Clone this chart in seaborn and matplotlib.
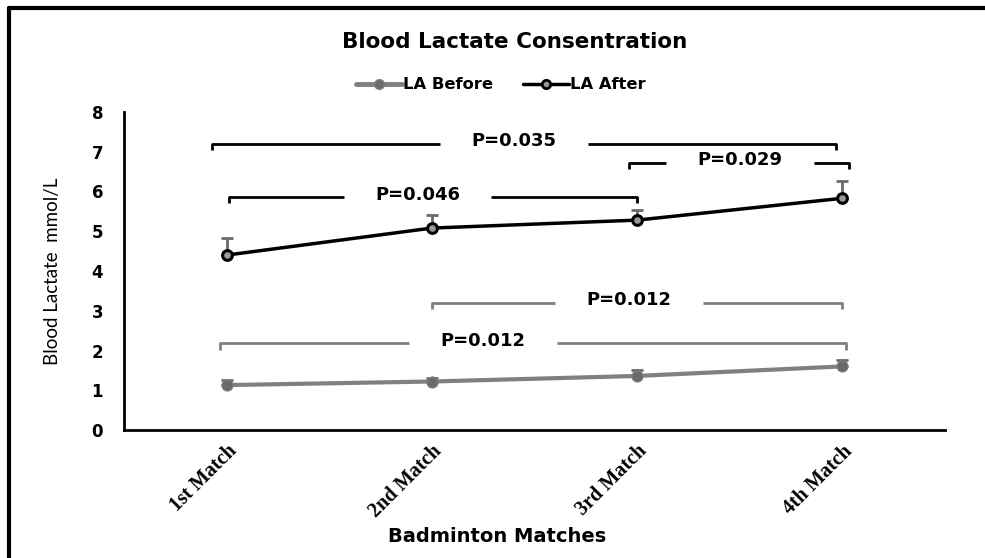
import matplotlib
matplotlib.use("Agg")
import matplotlib.pyplot as plt
import matplotlib.transforms as mtransforms
import seaborn as sns
import pandas as pd
import numpy as np
from matplotlib.lines import Line2D

# data
matches = ["1st Match", "2nd Match", "3rd Match", "4th Match"]
la_before = [1.13, 1.22, 1.36, 1.60]
la_before_err = [0.14, 0.10, 0.15, 0.16]
la_after = [4.40, 5.08, 5.28, 5.83]
la_after_err = [0.43, 0.32, 0.25, 0.43]

# significance brackets (x in category units, y in mmol/L)
bracket_labels = ["P=0.035", "P=0.046", "P=0.029", "P=0.012", "P=0.012"]
bracket_x0 = [-0.07, 0.01, 1.96, 1.00, -0.03]
bracket_x1 = [2.97, 2.00, 3.03, 3.00, 3.02]
bracket_y = [7.20, 5.86, 6.72, 3.20, 2.18]
bracket_text_x = [1.40, 0.93, 2.50, 1.96, 1.25]
bracket_series = ["after", "after", "after", "before", "before"]

GRAY = "#808080"
DARK_GRAY = "#6a6a6a"
BOLD_FONT = ["DejaVu Sans"]

sns.set_style("white")
plt.rcParams["font.family"] = ["Lato", "DejaVu Sans"]
plt.rcParams["text.color"] = "black"
plt.rcParams["axes.labelcolor"] = "black"
plt.rcParams["xtick.color"] = "black"
plt.rcParams["ytick.color"] = "black"

df = pd.DataFrame({
    "match": matches * 2,
    "pos": list(range(len(matches))) * 2,
    "value": la_before + la_after,
    "series": ["LA Before"] * len(matches) + ["LA After"] * len(matches),
})

fig = plt.figure(figsize=(9.85, 5.58), dpi=100)
ax = fig.add_axes([124 / 985, 1 - 430 / 558, (945 - 124) / 985, (430 - 112) / 558])

# upper-only error bars
pos = np.arange(len(matches))
for vals, errs in [(la_before, la_before_err), (la_after, la_after_err)]:
    ax.errorbar(pos, vals, yerr=[np.zeros(len(errs)), errs], fmt="none",
                ecolor=DARK_GRAY, elinewidth=2, capsize=4, capthick=2, zorder=2)

sns.lineplot(data=df[df.series == "LA Before"], x="pos", y="value", ax=ax,
             color=GRAY, linewidth=3, marker="o", markersize=8,
             markerfacecolor=DARK_GRAY, markeredgecolor=GRAY, zorder=3)
sns.lineplot(data=df[df.series == "LA After"], x="pos", y="value", ax=ax,
             color="black", linewidth=2.5, marker="o", markersize=7,
             markerfacecolor="#9a9a9a", markeredgecolor="black",
             markeredgewidth=2.2, zorder=3)

# brackets
gap = 0.36
drop = 0.16
for lab, x0, x1, y, tx, s in zip(bracket_labels, bracket_x0, bracket_x1,
                                 bracket_y, bracket_text_x, bracket_series):
    c = "black" if s == "after" else GRAY
    ax.plot([x0, x0, tx - gap], [y - drop, y, y], color=c, lw=2, solid_capstyle="butt")
    ax.plot([tx + gap, x1, x1], [y, y, y - drop], color=c, lw=2, solid_capstyle="butt")
    ax.text(tx, y + 0.06, lab, ha="center", va="center", fontsize=13,
            fontweight="bold", color="black", family=BOLD_FONT)

ax.set_xlim(-0.5, 3.5)
ax.set_ylim(0, 8)
ax.set_yticks(range(0, 9))
ax.set_xticks(np.arange(-0.5, 3.6, 1), minor=False)
ax.set_xticklabels([])
ax.set_xticks(pos, minor=True)
ax.set_xticklabels(matches, minor=True, rotation=45, ha="right",
                   rotation_mode="anchor", fontsize=14.5, fontweight="bold",
                   family="Liberation Serif")
shift = mtransforms.ScaledTranslation(8 / 100, 6 / 100, fig.dpi_scale_trans)
for t in ax.get_xticklabels(minor=True):
    t.set_transform(t.get_transform() + shift)
ax.tick_params(axis="x", which="minor", length=0, pad=8)
ax.tick_params(axis="x", which="major", length=7, width=2, direction="out")
ax.tick_params(axis="y", length=7, width=2, direction="out", labelsize=12, pad=8)
for t in ax.get_yticklabels():
    t.set_fontweight("bold")
    t.set_family(BOLD_FONT)

for sp in ["top", "right"]:
    ax.spines[sp].set_visible(False)
for sp in ["left", "bottom"]:
    ax.spines[sp].set_linewidth(2)
    ax.spines[sp].set_color("black")

ax.set_xlabel("")
ax.set_ylabel("Blood Lactate  mmol/L", fontsize=13.5, labelpad=22)

fig.text(515 / 985, 1 - 42 / 558, "Blood Lactate Consentration", ha="center",
         va="center", fontsize=15.5, fontweight="bold", family=BOLD_FONT)
fig.text(497 / 985, 1 - 537 / 558, "Badminton Matches", ha="center",
         va="center", fontsize=14, fontweight="bold", family=BOLD_FONT)

handles = [
    Line2D([], [], color=GRAY, lw=3.5, marker="o", markersize=7,
           markerfacecolor=DARK_GRAY, markeredgecolor=GRAY),
    Line2D([], [], color="black", lw=2.5, marker="o", markersize=6,
           markerfacecolor="#9a9a9a", markeredgecolor="black", markeredgewidth=2),
]
leg = fig.legend(handles, ["LA Before", "LA After"], loc="center",
                 bbox_to_anchor=(501 / 985, 1 - 85 / 558), ncol=2, frameon=False,
                 handlelength=2.8, handletextpad=0.1, columnspacing=1.8,
                 prop={"size": 11.8, "weight": "bold", "family": BOLD_FONT})

# outer frame (left and top edges)
fig.add_artist(Line2D([9 / 985, 9 / 985], [0, 1 - 8 / 558], color="black",
                      lw=3, transform=fig.transFigure))
fig.add_artist(Line2D([9 / 985, 1], [1 - 8 / 558, 1 - 8 / 558], color="black",
                      lw=3, transform=fig.transFigure))

fig.savefig("out.png", dpi=100)
